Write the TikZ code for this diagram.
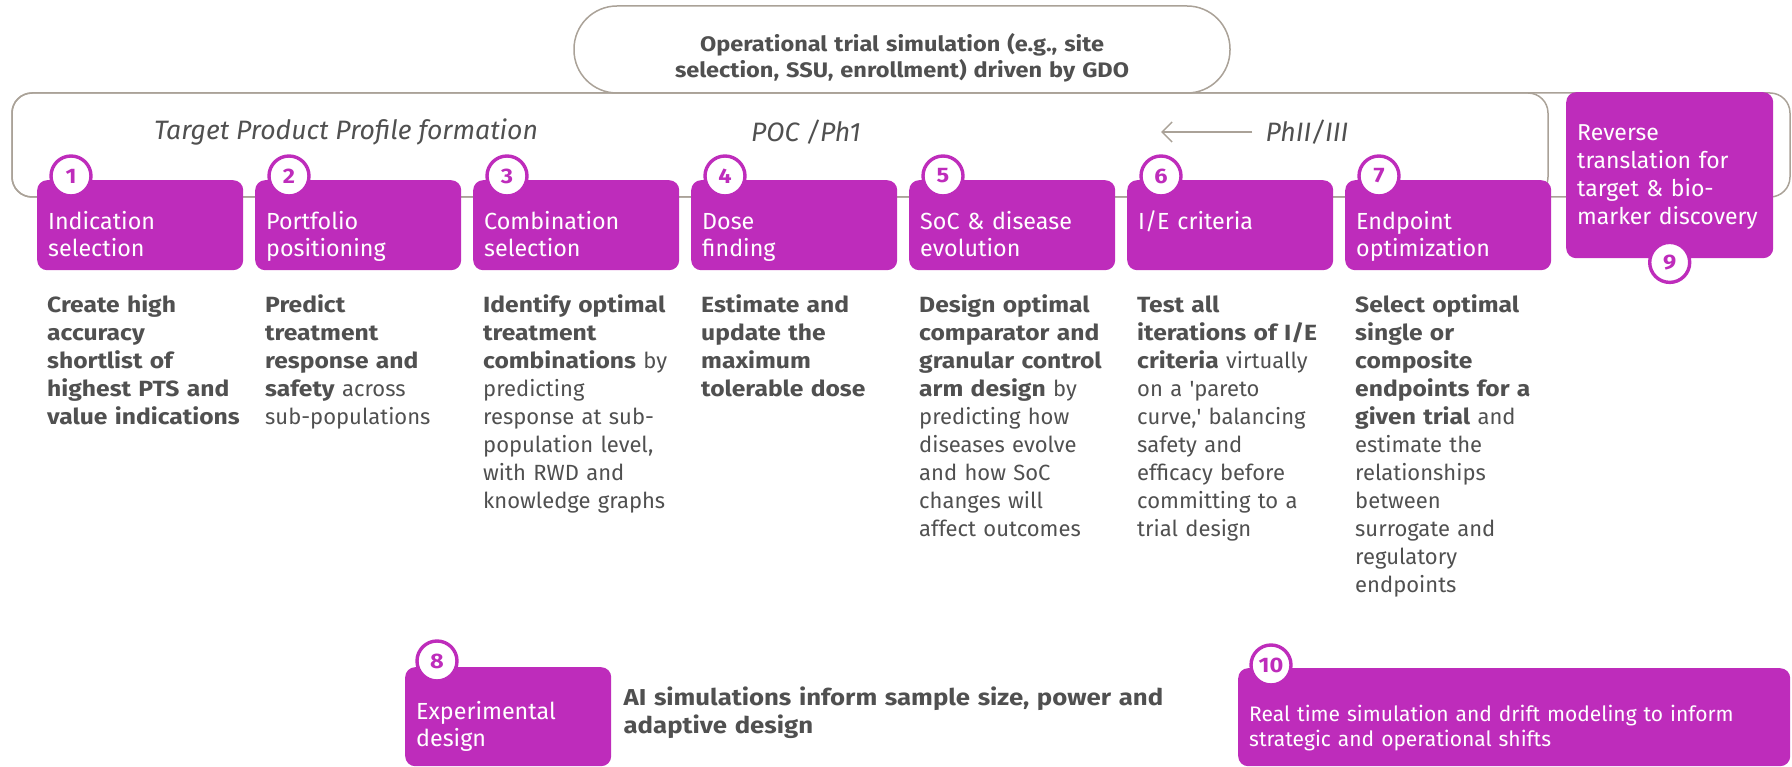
\documentclass[tikz,border=0pt]{standalone}
\usepackage{fontspec}
\setmainfont{Fira Sans}[BoldFeatures={FakeStretch=1.12}]
\usetikzlibrary{positioning,arrows.meta}
\definecolor{stagepink}{RGB}{190,44,187}
\definecolor{bodygray}{RGB}{80,80,80}
\definecolor{framegray}{RGB}{170,162,152}

\begin{document}
\begin{tikzpicture}[x=1pt,y=-1pt,node distance=11.6pt,
  stage/.style={fill=stagepink,text=white,rounded corners=10pt,align=left,
    text width=184pt,inner xsep=11pt,inner ysep=0pt,
    text height=49pt,text depth=41pt,font=\fontsize{23.3}{27}\selectfont},
  badge/.style={circle,draw=stagepink,line width=3.4pt,fill=white,
    minimum size=40pt,inner sep=0pt,text=stagepink,
    font=\fontsize{21}{21}\selectfont\bfseries},
  desc/.style={anchor=base west,align=left,text width=205pt,inner sep=0pt,
    text=bodygray,font=\fontsize{22}{28}\selectfont},
  phase/.style={text=bodygray,inner sep=0pt,font=\fontsize{26.6}{26}\selectfont\itshape},
  frame/.style={draw=framegray,line width=1.5pt,rounded corners=20pt}]
 \useasboundingbox (0,0) rectangle (1792,767);

 % phase band
 \draw[frame] (12,93) rectangle (1790,197);
 \draw[frame] (12,93) rectangle (1548,197);
 \node[draw=framegray,line width=1.5pt,fill=white,rounded corners=43pt,
   text width=600pt,inner xsep=28pt,inner ysep=0pt,text height=46pt,text depth=41pt,
   align=center,text=bodygray,font=\fontsize{21}{26}\selectfont\bfseries]
   (ops) at (902,49.5) {Operational trial simulation (e.g., site\\selection, SSU, enrollment) driven by GDO};
 \node[phase] (tpp) at (346,132) {Target Product Profile formation};
 \node[phase] (poc) at (806,132) {POC /Ph1};
 \node[phase] (ph3) at (1307,132) {PhII/III};
 \coordinate (back) at (1161,132);
 \draw[-{Straight Barb[length=10pt,width=20pt]},draw=framegray,line width=1.5pt]
   ([xshift=-13pt]ph3.west) -- (back);

 % stages
 \node[stage,anchor=north west] (b1) at (37,180) {Indication\\selection};
 \node[stage,right=of b1] (b2) {Portfolio\\positioning};
 \node[stage,right=of b2] (b3) {Combination\\selection};
 \node[stage,right=of b3] (b4) {Dose\\finding};
 \node[stage,right=of b4] (b5) {SoC \& disease\\evolution};
 \node[stage,right=of b5] (b6) {I/E criteria};
 \node[stage,right=of b6] (b7) {Endpoint\\optimization};
 \node[stage,anchor=north west,text width=185pt,text height=48pt,text depth=118pt,
   font=\fontsize{23}{28}\selectfont] (b9) at (1566,92)
   {Reverse\\translation for\\target \& bio-\\marker discovery};
 \node[stage,anchor=north west,text height=52pt,text depth=47pt] (b8) at (405,667)
   {Experimental\\design};
 \node[stage,anchor=north west,text width=530pt,text height=53pt,text depth=45pt,
   font=\fontsize{21}{25}\selectfont] (b10) at (1238,668)
   {Real time simulation and drift modeling to inform\\strategic and operational shifts};

 \foreach \i in {1,...,7}
   \node[badge] (n\i) at ([xshift=34pt,yshift=4pt]b\i.north west) {\i};
 \node[badge] (n8) at ([xshift=32pt,yshift=6pt]b8.north west) {8};
 \node[badge] (n9) at ([yshift=-4pt]b9.south) {9};
 \node[badge] (n10) at ([xshift=33pt,yshift=3pt]b10.north west) {10};

 % descriptions
 \node[desc] (d1) at ([xshift=10pt,yshift=-42pt]b1.south west)
   {\textbf{Create high\\accuracy\\shortlist of\\highest PTS and\\value indications}};
 \node[desc] (d2) at ([xshift=10pt,yshift=-42pt]b2.south west)
   {\textbf{Predict\\treatment\\response and\\safety} across\\sub-populations};
 \node[desc] (d3) at ([xshift=10pt,yshift=-42pt]b3.south west)
   {\textbf{Identify optimal\\treatment\\combinations} by\\predicting\\response at sub-\\population level,\\with RWD and\\knowledge graphs};
 \node[desc] (d4) at ([xshift=10pt,yshift=-42pt]b4.south west)
   {\textbf{Estimate and\\update the\\maximum\\tolerable dose}};
 \node[desc] (d5) at ([xshift=10pt,yshift=-42pt]b5.south west)
   {\textbf{Design optimal\\comparator and\\granular control\\arm design} by\\predicting how\\diseases evolve\\and how SoC\\changes will\\affect outcomes};
 \node[desc] (d6) at ([xshift=10pt,yshift=-42pt]b6.south west)
   {\textbf{Test all\\iterations of I/E\\criteria} virtually\\on a \textquotesingle pareto\\curve,\textquotesingle{} balancing\\safety and\\efficacy before\\committing to a\\trial design};
 \node[desc] (d7) at ([xshift=10pt,yshift=-42pt]b7.south west)
   {\textbf{Select optimal\\single or\\composite\\endpoints for a\\given trial} and\\estimate the\\relationships\\between\\surrogate and\\regulatory\\endpoints};
 \node[desc,text width=600pt,font=\fontsize{23}{28}\selectfont\bfseries] (d8)
   at ([xshift=12pt,yshift=-38pt]b8.north east)
   {AI simulations inform sample size, power and\\adaptive design};
\end{tikzpicture}
\end{document}
